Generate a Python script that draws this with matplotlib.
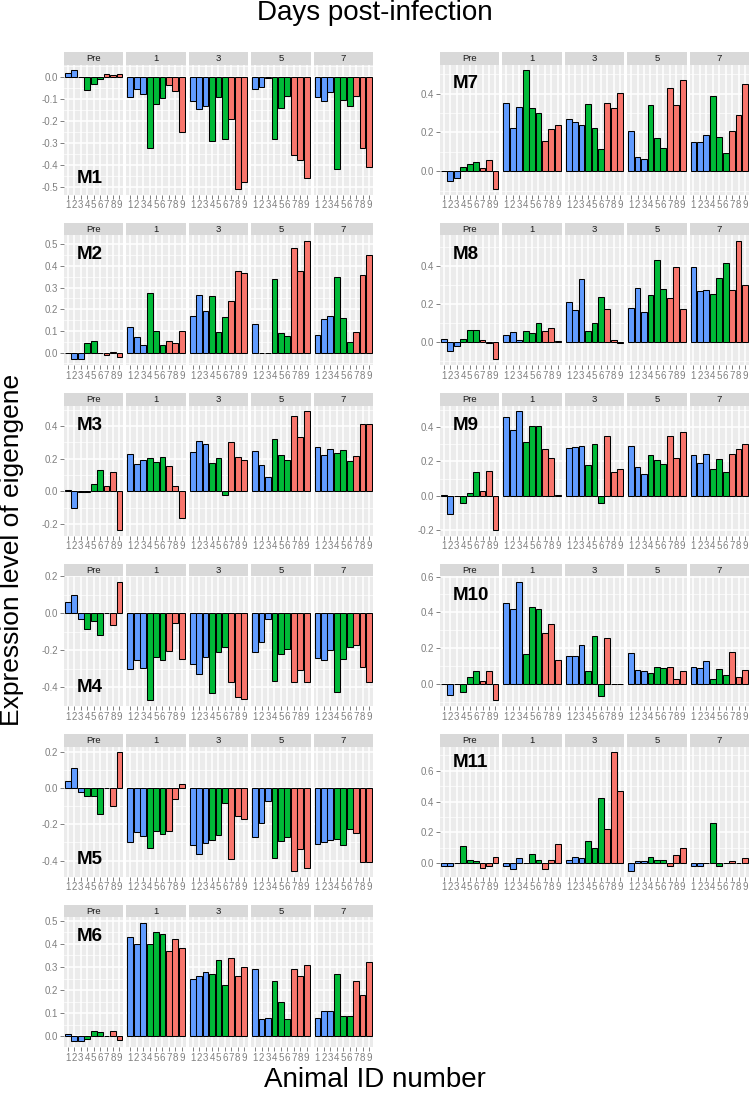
import numpy as np
import matplotlib
matplotlib.use("Agg")
import matplotlib.pyplot as plt

DAYS = ["Pre", "1", "3", "5", "7"]
ANIMALS = [1, 2, 3, 4, 5, 6, 7, 8, 9]
GROUP_COLORS = ["#619CFF"] * 3 + ["#00BA38"] * 3 + ["#F8766D"] * 3

# eigengene values: rows = Pre, day1, day3, day5, day7 ; columns = animals 1..9
M1 = [[0.02, 0.03, 0.0, -0.06, -0.03, -0.01, 0.015, 0.01, 0.015],
      [-0.09, -0.055, -0.075, -0.32, -0.12, -0.095, -0.035, -0.065, -0.25],
      [-0.11, -0.145, -0.13, -0.29, -0.09, -0.28, -0.19, -0.505, -0.475],
      [-0.055, -0.045, -0.003, -0.28, -0.14, -0.085, -0.355, -0.375, -0.455],
      [-0.09, -0.11, -0.07, -0.415, -0.105, -0.13, -0.085, -0.32, -0.405]]
M2 = [[-0.003, -0.03, -0.03, 0.045, 0.055, 0.0, -0.012, 0.005, -0.02],
      [0.12, 0.07, 0.035, 0.275, 0.10, 0.035, 0.055, 0.045, 0.10],
      [0.17, 0.265, 0.19, 0.26, 0.095, 0.165, 0.24, 0.375, 0.365],
      [0.13, -0.003, 0.0, 0.34, 0.09, 0.075, 0.48, 0.375, 0.515],
      [0.08, 0.155, 0.17, 0.35, 0.16, 0.05, 0.095, 0.36, 0.45]]
M3 = [[0.005, -0.10, -0.003, -0.005, 0.045, 0.13, 0.03, 0.12, -0.235],
      [0.23, 0.165, 0.19, 0.205, 0.18, 0.21, 0.155, 0.03, -0.165],
      [0.24, 0.31, 0.29, 0.175, 0.205, -0.02, 0.30, 0.21, 0.19],
      [0.245, 0.16, 0.09, 0.32, 0.225, 0.19, 0.46, 0.335, 0.49],
      [0.27, 0.225, 0.26, 0.235, 0.255, 0.185, 0.215, 0.41, 0.41]]
M4 = [[0.06, 0.10, -0.03, -0.085, -0.04, -0.115, 0.0, -0.065, 0.17],
      [-0.30, -0.255, -0.295, -0.47, -0.235, -0.255, -0.205, -0.055, -0.245],
      [-0.275, -0.33, -0.235, -0.43, -0.21, -0.185, -0.37, -0.455, -0.465],
      [-0.21, -0.155, -0.03, -0.365, -0.22, -0.195, -0.37, -0.305, -0.37],
      [-0.24, -0.255, -0.20, -0.425, -0.245, -0.18, -0.17, -0.29, -0.37]]
M5 = [[0.04, 0.11, -0.02, -0.045, -0.045, -0.145, 0.0, -0.10, 0.195],
      [-0.295, -0.24, -0.265, -0.33, -0.235, -0.255, -0.235, -0.06, 0.02],
      [-0.315, -0.365, -0.305, -0.285, -0.26, -0.085, -0.39, -0.155, -0.17],
      [-0.27, -0.195, -0.07, -0.385, -0.29, -0.27, -0.455, -0.335, -0.44],
      [-0.31, -0.30, -0.285, -0.28, -0.315, -0.225, -0.25, -0.41, -0.405]]
M6 = [[0.01, -0.02, -0.02, -0.01, 0.025, 0.02, 0.0, 0.025, -0.015],
      [0.43, 0.40, 0.49, 0.40, 0.45, 0.44, 0.37, 0.42, 0.38],
      [0.25, 0.26, 0.28, 0.27, 0.33, 0.22, 0.34, 0.26, 0.30],
      [0.29, 0.075, 0.08, 0.24, 0.15, 0.075, 0.29, 0.26, 0.31],
      [0.08, 0.11, 0.11, 0.27, 0.09, 0.09, 0.24, 0.18, 0.32]]
M7 = [[0.003, -0.05, -0.035, 0.02, 0.035, 0.045, 0.015, 0.055, -0.09],
      [0.35, 0.225, 0.33, 0.52, 0.325, 0.30, 0.155, 0.22, 0.24],
      [0.27, 0.255, 0.24, 0.345, 0.225, 0.115, 0.35, 0.325, 0.405],
      [0.205, 0.075, 0.065, 0.34, 0.17, 0.12, 0.43, 0.34, 0.47],
      [0.15, 0.15, 0.185, 0.39, 0.175, 0.095, 0.205, 0.29, 0.45]]
M8 = [[0.015, -0.05, -0.02, 0.015, 0.06, 0.065, 0.008, -0.003, -0.09],
      [0.035, 0.05, 0.01, 0.055, 0.045, 0.10, 0.055, 0.075, 0.005],
      [0.21, 0.165, 0.33, 0.055, 0.10, 0.235, 0.175, 0.01, -0.003],
      [0.18, 0.285, 0.155, 0.245, 0.43, 0.28, 0.23, 0.395, 0.175],
      [0.395, 0.265, 0.275, 0.25, 0.335, 0.415, 0.27, 0.53, 0.30]]
M9 = [[0.005, -0.105, 0.0, -0.04, 0.015, 0.14, 0.03, 0.145, -0.195],
      [0.46, 0.38, 0.49, 0.31, 0.405, 0.405, 0.275, 0.22, 0.005],
      [0.28, 0.285, 0.29, 0.18, 0.30, -0.04, 0.35, 0.14, 0.155],
      [0.29, 0.165, 0.13, 0.235, 0.21, 0.185, 0.35, 0.22, 0.37],
      [0.235, 0.19, 0.245, 0.155, 0.215, 0.14, 0.245, 0.275, 0.30]]
M10 = [[0.0, -0.06, 0.0, -0.045, 0.04, 0.07, 0.015, 0.075, -0.09],
       [0.45, 0.42, 0.57, 0.165, 0.43, 0.42, 0.285, 0.335, 0.135],
       [0.155, 0.155, 0.215, 0.07, 0.27, -0.065, 0.255, 0.0, 0.0],
       [0.175, 0.08, 0.075, 0.06, 0.095, 0.09, 0.095, 0.025, 0.07],
       [0.095, 0.09, 0.13, 0.025, 0.085, 0.05, 0.18, 0.04, 0.08]]
M11 = [[-0.02, -0.02, 0.0, 0.11, 0.02, 0.01, -0.03, -0.02, 0.04],
       [-0.02, -0.04, 0.03, 0.0, 0.06, 0.02, -0.04, 0.02, 0.12],
       [0.02, 0.04, 0.03, 0.14, 0.10, 0.42, 0.22, 0.72, 0.47],
       [-0.05, 0.01, 0.01, 0.04, 0.02, 0.02, -0.02, 0.05, 0.10],
       [-0.02, -0.02, 0.0, 0.26, -0.02, 0.0, 0.01, 0.0, 0.03]]

MODULE_NAMES = ["M1", "M2", "M3", "M4", "M5", "M6", "M7", "M8", "M9", "M10", "M11"]
MODULE_DATA = [M1, M2, M3, M4, M5, M6, M7, M8, M9, M10, M11]
TICK_STEPS = [0.1, 0.1, 0.2, 0.2, 0.2, 0.1, 0.2, 0.2, 0.2, 0.2, 0.2]
LABEL_YFRAC = [0.12, 0.85, 0.85, 0.14, 0.13, 0.85, 0.85, 0.85, 0.85, 0.85, 0.88]

plt.rcParams['font.family'] = ['Liberation Sans', 'DejaVu Sans']

W, H = 750, 1099
fig = plt.figure(figsize=(W / 100, H / 100), dpi=100)


def px_axes(x0, y0, w, h):
    return fig.add_axes([x0 / W, 1 - (y0 + h) / H, w / W, h / H])


COL_X = [64, 440]
FACET_W = 59.3
FACET_PITCH = 62.4
STRIP_TOP0 = 52
ROW_PITCH = 170.5
STRIP_H = 12.5
PLOT_H = 130
AXIS_GREY = "#7F7F7F"

for idx, (name, data) in enumerate(zip(MODULE_NAMES, MODULE_DATA)):
    col = 0 if idx < 6 else 1
    row = idx if idx < 6 else idx - 6
    vals = np.array(data, dtype=float)
    lo = min(0.0, vals.min())
    hi = max(0.0, vals.max())
    pad = 0.05 * (hi - lo)
    ylim = (lo - pad, hi + pad)
    step = TICK_STEPS[idx]
    k0 = int(np.ceil(ylim[0] / step - 1e-9))
    k1 = int(np.floor(ylim[1] / step + 1e-9))
    ticks = [k * step for k in range(k0, k1 + 1)]
    minor = [(k + 0.5) * step for k in range(k0 - 1, k1 + 1)
             if ylim[0] <= (k + 0.5) * step <= ylim[1]]
    y_strip = STRIP_TOP0 + row * ROW_PITCH
    for j, day in enumerate(DAYS):
        x0 = COL_X[col] + j * FACET_PITCH
        sax = px_axes(x0, y_strip, FACET_W, STRIP_H)
        sax.set_facecolor("#D9D9D9")
        sax.set_xticks([])
        sax.set_yticks([])
        for s in sax.spines.values():
            s.set_visible(False)
        sax.text(0.5, 0.45, day, ha="center", va="center", fontsize=6.8,
                 color="#1A1A1A", transform=sax.transAxes)

        ax = px_axes(x0, y_strip + STRIP_H, FACET_W, PLOT_H)
        ax.set_facecolor("#EBEBEB")
        ax.set_axisbelow(True)
        ax.set_yticks(ticks)
        ax.set_yticks(minor, minor=True)
        ax.set_xticks(ANIMALS)
        ax.grid(which="major", color="white", linewidth=1.1)
        ax.grid(which="minor", axis="y", color="white", linewidth=0.5)
        ax.bar(ANIMALS, vals[j], width=0.9, color=GROUP_COLORS,
               edgecolor="black", linewidth=0.75, zorder=2)
        ax.set_xlim(0.4, 9.6)
        ax.set_ylim(ylim)
        for s in ax.spines.values():
            s.set_visible(False)
        ax.set_xticklabels([str(a) for a in ANIMALS], fontsize=7,
                           color=AXIS_GREY)
        ax.tick_params(axis="x", length=3, width=0.7, color=AXIS_GREY, pad=1)
        ax.tick_params(axis="y", which="minor", length=0)
        if j == 0:
            ax.set_yticklabels([f"{(0.0 if abs(t) < 1e-9 else t):.1f}" for t in ticks],
                               fontsize=7, color=AXIS_GREY)
            ax.tick_params(axis="y", length=3, width=0.7, color=AXIS_GREY, pad=1)
            ax.text(0.21, LABEL_YFRAC[idx], name, transform=ax.transAxes,
                    ha="left", va="center", fontsize=13.5, fontweight="bold",
                    color="black")
        else:
            ax.tick_params(axis="y", length=0, labelleft=False)

fig.text(0.5, 1 - 13 / H, "Days post-infection", ha="center", va="center",
         fontsize=20)
fig.text(0.5, 1 - 1080 / H, "Animal ID number", ha="center", va="center",
         fontsize=20)
fig.text(12 / W, 1 - 550 / H, "Expression level of eigengene", ha="center",
         va="center", rotation=90, fontsize=19)

fig.savefig("out.png", dpi=100)
